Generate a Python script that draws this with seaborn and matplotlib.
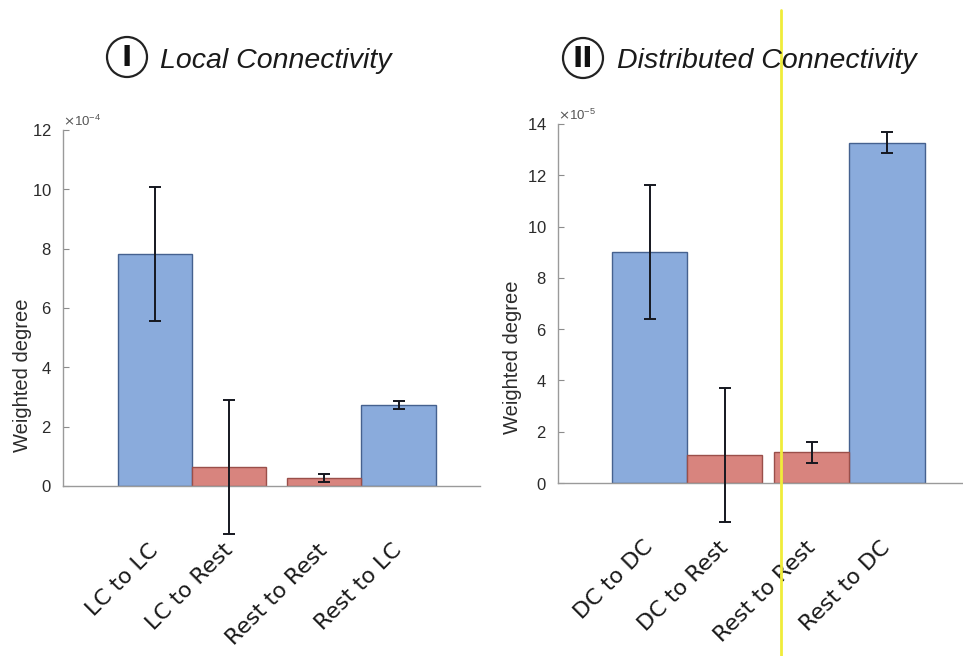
import numpy as np
import pandas as pd
import matplotlib
matplotlib.use("Agg")
import matplotlib.pyplot as plt
from matplotlib.patches import Ellipse
from matplotlib.lines import Line2D
from matplotlib.ticker import ScalarFormatter
from matplotlib.transforms import ScaledTranslation
import matplotlib.colors as mcolors
import seaborn as sns

# ---- data -------------------------------------------------------------
local_labels = ["LC to LC", "LC to Rest", "Rest to Rest", "Rest to LC"]
local_means = [7.82e-4, 0.63e-4, 0.26e-4, 2.74e-4]
local_errs = [2.26e-4, 2.26e-4, 0.13e-4, 0.13e-4]
local_target = ["module", "rest", "rest", "module"]

dist_labels = ["DC to DC", "DC to Rest", "Rest to Rest", "Rest to DC"]
dist_means = [9.02e-5, 1.10e-5, 1.19e-5, 13.27e-5]
dist_errs = [2.62e-5, 2.62e-5, 0.40e-5, 0.42e-5]
dist_target = ["module", "rest", "rest", "module"]

group_index = [1, 1, 2, 2]      # two pairs of bars per panel
side = [-1, 1, -1, 1]           # left / right bar inside a pair

palette = {"module": "#8aabdc", "rest": "#d8847e"}
edge_colors = {"module": "#45618f", "rest": "#9a4f4a"}

sns.set_theme(style="white")
plt.rcParams["font.family"] = ["Liberation Sans", "DejaVu Sans"]

fig = plt.figure(figsize=(9.63, 6.56), dpi=100)
W, H = 963, 656


def panel(rect, labels, means, errs, target, half_w, xlim, ylim, yticks,
          exponent, label_y):
    ax = fig.add_axes(rect)
    pos = [g + s * half_w for g, s in zip(group_index, side)]
    df = pd.DataFrame({"pos": pos, "value": means, "target": target,
                       "label": labels})
    sns.barplot(data=df, x="pos", y="value", hue="target", palette=palette,
                native_scale=True, dodge=False, width=1.0, errorbar=None,
                legend=False, ax=ax, linewidth=1.0, saturation=1)
    for p in ax.patches:
        fc = mcolors.to_hex(p.get_facecolor())
        for k, v in palette.items():
            if fc == v:
                p.set_edgecolor(edge_colors[k])
    ax.errorbar(pos, means, yerr=errs, fmt="none", ecolor="#15171f",
                elinewidth=1.4, capsize=4, capthick=1.4, clip_on=False,
                zorder=5)
    ax.set_xlim(*xlim)
    ax.set_ylim(*ylim)
    ax.set_yticks(yticks)
    ax.set_xticks(pos)
    ax.set_xticklabels(labels, rotation=45, ha="right", va="center",
                       rotation_mode="anchor", fontsize=16,
                       family="DejaVu Sans", color="#1a1a1a")
    shift = ScaledTranslation(-5 / 100, 0, fig.dpi_scale_trans)
    for lbl in ax.get_xticklabels():
        lbl.set_transform(lbl.get_transform() + shift)
    ax.tick_params(axis="x", length=0, pad=44)
    ax.tick_params(axis="y", direction="in", length=4, width=0.8,
                   color="#8c8c8c", labelsize=12, labelcolor="#2b2b2b",
                   pad=8, left=True)
    fmt = ScalarFormatter(useMathText=True)
    fmt.set_powerlimits((exponent, exponent))
    ax.yaxis.set_major_formatter(fmt)
    ax.yaxis.get_offset_text().set_fontsize(9.5)
    ax.yaxis.get_offset_text().set_color("#555555")
    for s in ("top", "right"):
        ax.spines[s].set_visible(False)
    for s in ("left", "bottom"):
        ax.spines[s].set_color("#9a9a9a")
        ax.spines[s].set_linewidth(1.0)
    ax.set_xlabel("")
    ax.set_ylabel("Weighted degree", fontsize=14.5, color="#2b2b2b")
    ax.yaxis.set_label_coords(label_y[0], label_y[1])
    ax.set_facecolor("none")
    return ax


panel([63 / W, (H - 486) / H, 417 / W, 356 / H],
      local_labels, local_means, local_errs, local_target,
      half_w=0.219, xlim=(0.237, 2.70), ylim=(0, 12e-4),
      yticks=np.arange(0, 13e-4, 2e-4), exponent=-4, label_y=(-0.075, 0.31))

panel([558 / W, (H - 483) / H, 405 / W, 359 / H],
      dist_labels, dist_means, dist_errs, dist_target,
      half_w=0.2315, xlim=(0.204, 2.70), ylim=(0, 14e-5),
      yticks=np.arange(0, 15e-5, 2e-5), exponent=-5, label_y=(-0.088, 0.35))

# ---- panel titles with circled numerals --------------------------------
for cx, cy, numeral, tx, title in [
        (127, 57, "I", 160, "Local Connectivity"),
        (583, 58, "II", 617, "Distributed Connectivity")]:
    fig.add_artist(Ellipse((cx / W, 1 - cy / H), 40 / W, 40 / H,
                           transform=fig.transFigure, fill=False,
                           lw=1.6, ec="#222222"))
    fig.text(cx / W, 1 - (cy + 1) / H, numeral, ha="center", va="center",
             fontsize=20, fontweight="bold", family="DejaVu Sans",
             color="#111111")
    fig.text(tx / W, 1 - 61 / H, title, ha="left", va="center",
             fontsize=20.5, style="italic", family="Liberation Sans",
             color="#1a1a1a")

# vertical marker line
fig.add_artist(Line2D([781 / W, 781 / W], [0, 1 - 10 / H],
                      transform=fig.transFigure, color="#f0ec3a", lw=2))

fig.savefig("out.png", dpi=100, facecolor="white")
